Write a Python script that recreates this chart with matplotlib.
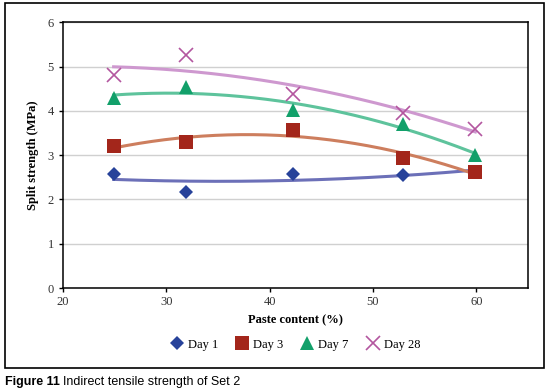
import numpy as np
import matplotlib
matplotlib.use("Agg")
import matplotlib.pyplot as plt
from matplotlib.patches import Rectangle

paste = [24.9, 31.9, 42.3, 52.9, 59.9]
day1 = [2.57, 2.17, 2.58, 2.55, 2.63]
day3 = [3.20, 3.29, 3.57, 2.93, 2.61]
day7 = [4.30, 4.54, 4.02, 3.70, 3.01]
day28 = [4.81, 5.27, 4.38, 3.95, 3.60]
labels = ["Day 1", "Day 3", "Day 7", "Day 28"]
xticks = [20, 30, 40, 50, 60]
yticks = [0, 1, 2, 3, 4, 5, 6]

series = [day1, day3, day7, day28]
markers = ["D", "s", "^", "x"]
msizes = [7, 10, 9.5, 10]
mcolors = ["#27429A", "#A3261B", "#12A06A", "#B3569F"]
lcolors = ["#6C70B8", "#CD7E5E", "#5EC39C", "#CE98CF"]

serif = ["Liberation Serif", "DejaVu Serif"]
plt.rcParams["font.family"] = serif

fig = plt.figure(figsize=(5.5, 3.91), dpi=100)
ax = fig.add_axes([0.1145, 0.2634, 0.8455, 0.6796])

x = np.array(paste)
xs = np.linspace(x.min(), x.max(), 200)
for ys, mk, ms, mc, lc in zip(series, markers, msizes, mcolors, lcolors):
    c = np.polyfit(x, ys, 2)
    ax.plot(xs, np.polyval(c, xs), color=lc, lw=2.2, zorder=2)
handles = []
for ys, mk, ms, mc, lab in zip(series, markers, msizes, mcolors, labels):
    if mk == "x":
        h, = ax.plot(x, ys, ls="none", marker=mk, ms=ms, mew=1.2, color=mc, label=lab, zorder=3)
    else:
        h, = ax.plot(x, ys, ls="none", marker=mk, ms=ms, mew=0, color=mc, label=lab, zorder=3)
    handles.append(h)

ax.set_xlim(20, 65)
ax.set_ylim(0, 6)
ax.set_xticks(xticks)
ax.set_yticks(yticks)
ax.yaxis.grid(True, color="#D0D0D0", lw=1)
ax.set_axisbelow(True)
for s in ax.spines.values():
    s.set_color("black")
    s.set_linewidth(1.1)
ax.tick_params(axis="both", labelsize=9, colors="black", labelcolor="#333333",
               length=3, width=1, direction="out")
ax.tick_params(axis="x", pad=3)
ax.set_xlabel("Paste content (%)", fontsize=9, fontweight="bold", labelpad=4)
ax.set_ylabel("Split strength (MPa)", fontsize=9, fontweight="bold", labelpad=6)

leg = fig.legend(handles=handles, labels=labels, loc="center", bbox_to_anchor=(0.537, 0.118),
                 ncol=4, frameon=False, fontsize=9, handlelength=1.0, handletextpad=0.4,
                 columnspacing=1.4)

fig.patches.append(Rectangle((0.009, 0.059), 0.98, 0.933, transform=fig.transFigure,
                             fill=False, edgecolor="black", lw=1.2))

t1 = fig.text(0.009, 0.015, "Figure 11", fontsize=9, fontweight="bold",
              family=["Liberation Sans", "DejaVu Sans"], va="baseline")
fig.canvas.draw()
bb = t1.get_window_extent()
x2 = (bb.x1 + 3) / fig.bbox.width
fig.text(x2, 0.015, "Indirect tensile strength of Set 2", fontsize=9,
         family=["Liberation Sans", "DejaVu Sans"], va="baseline")

fig.savefig("out.png", dpi=100)
